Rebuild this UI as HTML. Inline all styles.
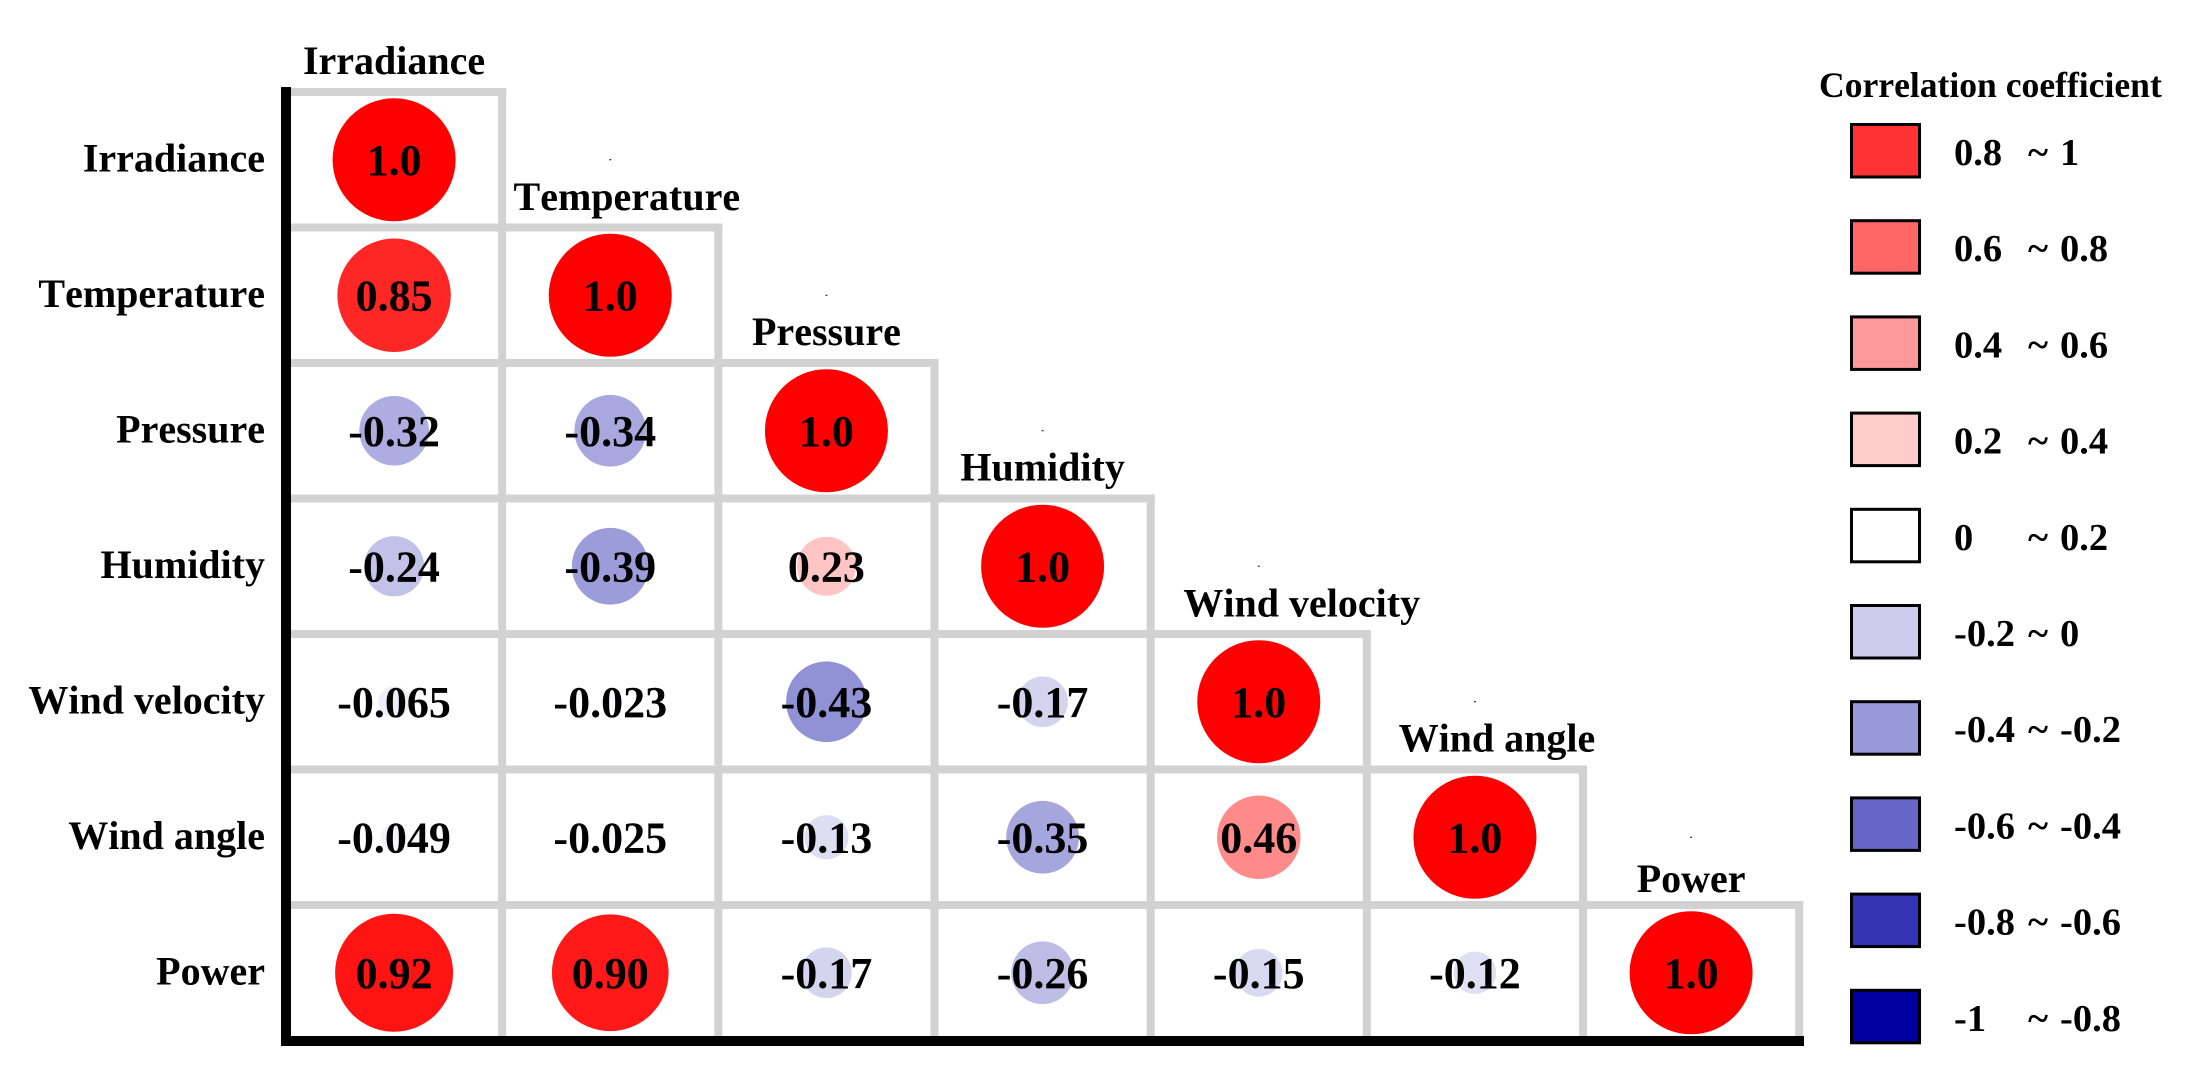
<!DOCTYPE html>
<html lang="en">
<head>
<meta charset="utf-8">
<title>Correlation coefficient matrix</title>
<style>
html,body{margin:0;padding:0;background:#fff;}
svg{display:block;}
text{font-family:"Liberation Serif",serif;font-weight:700;fill:#000;font-variant-ligatures:none;font-kerning:none;}
</style>
</head>
<body>
<svg id="chart" xmlns="http://www.w3.org/2000/svg" width="2211" height="1088" viewBox="0 0 2211 1088">
<rect x="0" y="0" width="2211" height="1088" fill="#ffffff"/>
<g id="grid"></g>
<g id="marks"></g>
<g id="axes"></g>
<g id="labels"></g>
<g id="legend"></g>
</svg>
<script>
const categories = ["Irradiance","Temperature","Pressure","Humidity","Wind velocity","Wind angle","Power"];
const rowIrradiance = [1.0];
const rowTemperature = [0.85, 1.0];
const rowPressure = [-0.32, -0.34, 1.0];
const rowHumidity = [-0.24, -0.39, 0.23, 1.0];
const rowWindVelocity = [-0.065, -0.023, -0.43, -0.17, 1.0];
const rowWindAngle = [-0.049, -0.025, -0.13, -0.35, 0.46, 1.0];
const rowPower = [0.92, 0.90, -0.17, -0.26, -0.15, -0.12, 1.0];
const legendLevels = [0.8, 0.6, 0.4, 0.2, 0, -0.2, -0.4, -0.6, -0.8, -1];
const legendFrom = ["0.8","0.6","0.4","0.2","0","-0.2","-0.4","-0.6","-0.8","-1"];
const legendTo = ["1","0.8","0.6","0.4","0.2","0","-0.2","-0.4","-0.6","-0.8"];
const legendTitle = "Correlation coefficient";

const matrix = [rowIrradiance,rowTemperature,rowPressure,rowHumidity,rowWindVelocity,rowWindAngle,rowPower];
const NS = "http://www.w3.org/2000/svg";
const PITCH_X = 216.17, PITCH_Y = 135.5, LEFT = 286, TOP = 92;
/* hand-placed nudges of the column headers relative to their column */
const headerNudgeX = [0, 16.6, 0, 0, 43, 22, 0];
const headerLift = [18, 17.5, 18, 18, 17.3, 17.8, 13];

function xEdge(c){ return LEFT + PITCH_X * c; }
function yEdge(r){ return TOP + PITCH_Y * r; }
function xScale(c){ return xEdge(c + 0.5); }
function yScale(r){ return yEdge(r + 0.5); }
function radius(v){ return 61.5 * Math.sqrt(Math.abs(v)); }
function colorFor(v){
  const m = Math.min(1, Math.abs(v));
  if (v >= 0) {
    const g = Math.round(255 * (1 - m));
    return "rgb(255," + g + "," + g + ")";
  }
  const n = Math.round(255 * (1 - m));
  const b = Math.round(255 - 95 * m);
  return "rgb(" + n + "," + n + "," + b + ")";
}
function formatValue(v){
  const a = Math.abs(v);
  if (a >= 0.995) return v.toFixed(1);
  if (a >= 0.1) return v.toFixed(2);
  return v.toFixed(3);
}
function make(tag, attrs, parent, content){
  const el = document.createElementNS(NS, tag);
  for (const k in attrs) el.setAttribute(k, attrs[k]);
  if (content !== undefined) el.textContent = content;
  parent.appendChild(el);
  return el;
}

const gridG = document.getElementById("grid");
const marksG = document.getElementById("marks");
const axesG = document.getElementById("axes");
const labelsG = document.getElementById("labels");
const legendG = document.getElementById("legend");
const n = categories.length;

for (let r = 0; r < n; r++) {
  const h = make("line", {x1:xEdge(0), x2:xEdge(r+1)+4, y1:yEdge(r), y2:yEdge(r), stroke:"#d2d2d2", "stroke-width":8}, gridG);
  
  
  const v = make("line", {x1:xEdge(r+1), x2:xEdge(r+1), y1:yEdge(r)-4, y2:yEdge(n), stroke:"#d2d2d2", "stroke-width":8}, gridG);
  
  
}

matrix.forEach(function(row, r){
  row.forEach(function(val, c){
    const circle = make("circle", {cx:xScale(c), cy:yScale(r), r:radius(val), fill:colorFor(val)}, marksG);
    
    
  });
});
matrix.forEach(function(row, r){
  row.forEach(function(val, c){
    const t = make("text", {x:xScale(c), y:yScale(r)+15, "text-anchor":"middle", "font-size":44}, marksG, formatValue(val));
    
    
  });
});

for (let k = 1; k < n; k++) {
  const dot = make("rect", {x:xScale(k)-1, y:yScale(k-1)-0.5, width:2, height:1, fill:"#000"}, marksG);
  
  
}

const yAxis = make("rect", {x:281, y:87, width:10, height:959, fill:"#000"}, axesG);


const xAxis = make("rect", {x:281, y:1036, width:1523, height:10, fill:"#000"}, axesG);



categories.forEach(function(name, i){
  const left = make("text", {x:265, y:yScale(i)+11.7, "text-anchor":"end", "font-size":40}, labelsG, name);
  
  
  const top = make("text", {x:xScale(i)+headerNudgeX[i], y:yEdge(i)-headerLift[i], "text-anchor":"middle", "font-size":40}, labelsG, name);
  
  
});

const titleEl = make("text", {x:1819, y:97, "font-size":35.6}, legendG, legendTitle);



legendLevels.forEach(function(level, i){
  const y = 124.5 + 96.2 * i;
  const sw = make("rect", {x:1851.5, y:y, width:68, height:52.5, fill:colorFor(level), stroke:"#000", "stroke-width":3}, legendG);
  
  
  const a = make("text", {x:1954, y:y+40.5, "font-size":38.5}, legendG, legendFrom[i]);
  
  
  const tilde = make("text", {x:2028, y:y+40.5, "font-size":38.5}, legendG, "~");
  
  
  const b = make("text", {x:2060, y:y+40.5, "font-size":38.5}, legendG, legendTo[i]);
  
  
});
</script>
</body>
</html>
